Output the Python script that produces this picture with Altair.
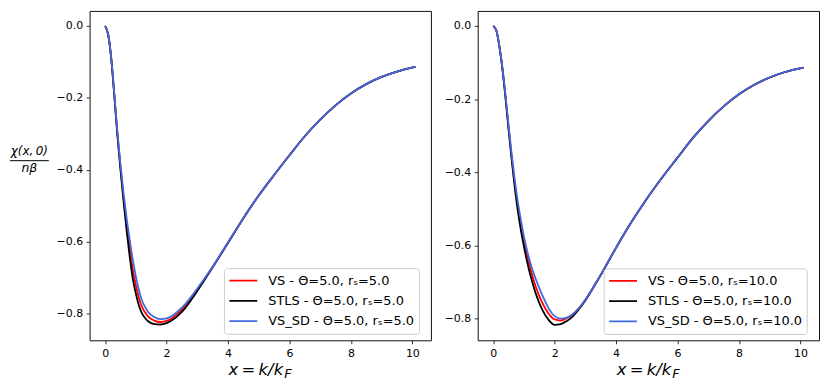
import altair as alt
import pandas as pd

# ---------------- data ----------------
x_vals = [0.0, 0.1, 0.2, 0.3, 0.4, 0.5, 0.6, 0.7, 0.8, 0.9, 1.0, 1.1, 1.2,
          1.3, 1.4, 1.6, 1.8, 2.0, 2.2, 2.4, 2.6, 2.8, 3.0, 3.5, 4.0, 4.5,
          5.0, 5.5, 6.0, 6.5, 7.0, 7.5, 8.0, 8.5, 9.0, 9.5, 10.1]

# Theta = 5.0, r_s = 5.0
vs_rs5 = [0.0, -0.024, -0.091, -0.192, -0.300, -0.393, -0.477, -0.553, -0.620,
          -0.677, -0.721, -0.757, -0.782, -0.797, -0.809, -0.820, -0.824,
          -0.821, -0.812, -0.798, -0.780, -0.758, -0.734, -0.671, -0.603,
          -0.535, -0.472, -0.415, -0.360, -0.307, -0.261, -0.221, -0.188,
          -0.162, -0.142, -0.127, -0.114]
stls_rs5 = [0.0, -0.024, -0.092, -0.195, -0.305, -0.400, -0.488, -0.570,
            -0.642, -0.703, -0.745, -0.778, -0.800, -0.813, -0.822, -0.830,
            -0.831, -0.827, -0.818, -0.804, -0.786, -0.763, -0.738, -0.672,
            -0.604, -0.535, -0.472, -0.415, -0.360, -0.307, -0.261, -0.221,
            -0.188, -0.162, -0.142, -0.127, -0.114]
vssd_rs5 = [0.0, -0.024, -0.090, -0.190, -0.295, -0.385, -0.465, -0.535,
            -0.595, -0.650, -0.697, -0.735, -0.764, -0.782, -0.796, -0.810,
            -0.816, -0.814, -0.806, -0.792, -0.775, -0.754, -0.731, -0.670,
            -0.603, -0.535, -0.472, -0.415, -0.360, -0.307, -0.261, -0.221,
            -0.188, -0.162, -0.142, -0.127, -0.114]

# Theta = 5.0, r_s = 10.0
vs_rs10 = [0.0, -0.012, -0.055, -0.116, -0.193, -0.277, -0.357, -0.430,
           -0.492, -0.543, -0.588, -0.626, -0.660, -0.690, -0.716, -0.757,
           -0.786, -0.802, -0.805, -0.798, -0.787, -0.770, -0.748, -0.680,
           -0.606, -0.536, -0.472, -0.414, -0.360, -0.306, -0.260, -0.220,
           -0.187, -0.161, -0.141, -0.126, -0.114]
stls_rs10 = [0.0, -0.012, -0.056, -0.118, -0.197, -0.283, -0.365, -0.440,
             -0.505, -0.558, -0.603, -0.643, -0.678, -0.708, -0.735, -0.776,
             -0.803, -0.817, -0.815, -0.806, -0.793, -0.773, -0.750, -0.681,
             -0.606, -0.536, -0.472, -0.414, -0.360, -0.306, -0.260, -0.220,
             -0.187, -0.161, -0.141, -0.126, -0.114]
vssd_rs10 = [0.0, -0.012, -0.055, -0.115, -0.190, -0.272, -0.350, -0.420,
             -0.480, -0.530, -0.575, -0.613, -0.645, -0.672, -0.695, -0.736,
             -0.771, -0.793, -0.800, -0.797, -0.787, -0.770, -0.748, -0.680,
             -0.606, -0.536, -0.472, -0.414, -0.360, -0.306, -0.260, -0.220,
             -0.187, -0.161, -0.141, -0.126, -0.114]

labels_rs5 = ["VS - Θ=5.0, rₛ=5.0", "STLS - Θ=5.0, rₛ=5.0", "VS_SD - Θ=5.0, rₛ=5.0"]
labels_rs10 = ["VS - Θ=5.0, rₛ=10.0", "STLS - Θ=5.0, rₛ=10.0", "VS_SD - Θ=5.0, rₛ=10.0"]
line_colors = ["#ff0000", "#000000", "#4169e1"]

x_ticks = [0, 2, 4, 6, 8, 10]
y_ticks = [0.0, -0.2, -0.4, -0.6, -0.8]

FONT = "DejaVu Sans"


def long_df(labels, series):
    rows = []
    for lab, vals in zip(labels, series):
        for xv, yv in zip(x_vals, vals):
            rows.append({"x": xv, "y": yv, "series": lab})
    return pd.DataFrame(rows)


def panel(labels, series, ydom, lx, ly, w, h, ytitle):
    df = long_df(labels, series)
    lines = alt.Chart(df).mark_line(strokeWidth=1.8, interpolate="monotone").encode(
        x=alt.X("x:Q",
                scale=alt.Scale(domain=[-0.505, 10.605], nice=False, zero=False),
                axis=alt.Axis(values=x_ticks, format="d", title=None)),
        y=alt.Y("y:Q",
                scale=alt.Scale(domain=ydom, nice=False, zero=False),
                axis=alt.Axis(values=y_ticks, format=".1f", title=None,
                              labelExpr="replace(datum.label, '-', '−')")),
        color=alt.Color("series:N",
                        scale=alt.Scale(domain=labels, range=line_colors),
                        legend=alt.Legend(
                            title=None, orient="none", legendX=lx, legendY=ly,
                            direction="vertical", fillColor="white",
                            strokeColor="#cccccc", cornerRadius=3, padding=4.5,
                            symbolType="stroke", symbolSize=784,
                            symbolStrokeWidth=1.8, labelFont=FONT,
                            labelFontSize=13, labelColor="black",
                            labelOffset=10, rowPadding=4.4, clipHeight=16,
                            labelLimit=0)),
    )
    cx = w / 2 + 23
    t1 = alt.Chart(pd.DataFrame({"t": ["x\u2009=\u2009k/k"]})).mark_text(
        font=FONT, fontStyle="italic", fontSize=16.5, align="right",
        baseline="alphabetic", color="black"
    ).encode(x=alt.value(cx), y=alt.value(h + 34.5), text="t:N")
    t2 = alt.Chart(pd.DataFrame({"t": ["F"]})).mark_text(
        font=FONT, fontStyle="italic", fontSize=13, align="left",
        baseline="alphabetic", color="black"
    ).encode(x=alt.value(cx + 1), y=alt.value(h + 37.5), text="t:N")
    layers = [lines, t1, t2]
    if ytitle:
        num = alt.Chart(pd.DataFrame({"t": ["χ(x,\u20090)"]})).mark_text(
            font=FONT, fontStyle="italic", fontSize=12, align="center",
            baseline="middle", color="black"
        ).encode(x=alt.value(-60.5), y=alt.value(140.5), text="t:N")
        den = alt.Chart(pd.DataFrame({"t": ["nβ"]})).mark_text(
            font=FONT, fontStyle="italic", fontSize=12.5, align="center",
            baseline="middle", color="black"
        ).encode(x=alt.value(-60.5), y=alt.value(158), text="t:N")
        bar = alt.Chart(pd.DataFrame({"v": [0]})).mark_rule(
            color="black", strokeWidth=1
        ).encode(x=alt.value(-80), x2=alt.value(-41), y=alt.value(150.5))
        layers += [num, den, bar]
    return alt.layer(*layers).properties(width=w, height=h)


left = panel(labels_rs5, [vs_rs5, stls_rs5, vssd_rs5], [-0.8749, 0.0417],
             135, 258.5, 343, 331, True)
right = panel(labels_rs10, [vs_rs10, stls_rs10, vssd_rs10], [-0.859, 0.0409],
              126.6, 258.7, 343, 331, False)

chart = alt.hconcat(left, right, spacing=11).resolve_scale(
    color="independent"
).resolve_legend(color="independent").properties(
    padding={"left": 1, "top": 1, "right": 2, "bottom": 2}
).configure_view(
    stroke="#111111", strokeWidth=1
).configure_axis(
    grid=False, domain=False, tickColor="black", tickSize=3.5, tickWidth=0.8,
    labelFont=FONT, labelFontSize=11, labelColor="black", labelPadding=3.5
)

chart.save("out.html", embed_options={"renderer": "svg", "actions": False})
